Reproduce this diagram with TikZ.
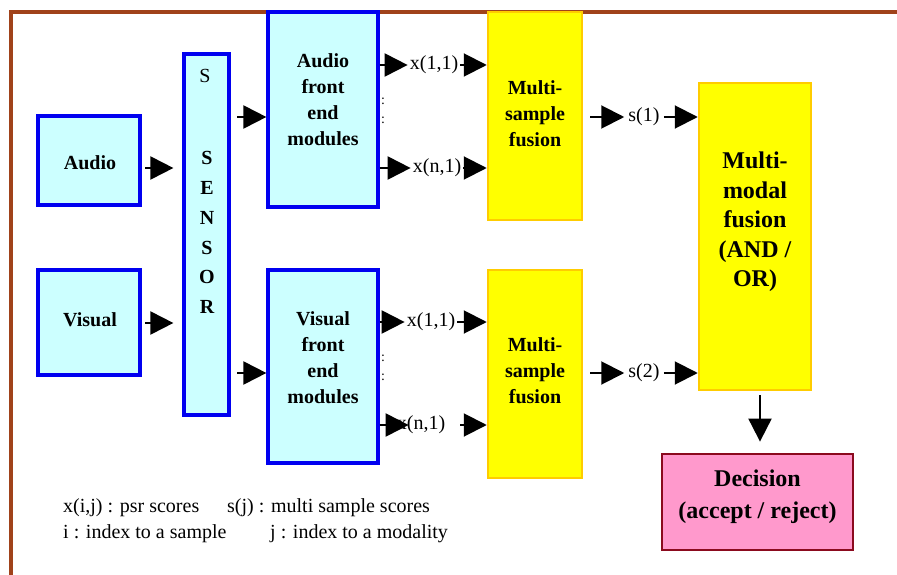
\documentclass[tikz,border=0pt]{standalone}
\usepackage{fontspec}
\setmainfont{Liberation Serif}
\usetikzlibrary{arrows.meta}
\definecolor{boxcyan}{HTML}{CCFFFF}
\definecolor{boxblue}{HTML}{0000F0}
\definecolor{fuseyellow}{HTML}{FFFF00}
\definecolor{fuseedge}{HTML}{FFCC00}
\definecolor{decpink}{HTML}{FF99CC}
\definecolor{decedge}{HTML}{8B0A1E}
\definecolor{framebrown}{HTML}{A0421A}

\begin{document}
\begin{tikzpicture}[x=1pt,y=-1pt,
  frontbox/.style={draw=boxblue, line width=3.2pt, fill=boxcyan, inner sep=0pt},
  fusebox/.style={draw=fuseedge, line width=2.5pt, fill=fuseyellow, inner sep=0pt},
  decbox/.style={draw=decedge, line width=2.8pt, fill=decpink, inner sep=0pt},
  boxtext/.style={font=\bfseries\fontsize{20}{26}\selectfont, align=center, inner sep=0pt},
  bigtext/.style={font=\bfseries\fontsize{24}{29.5}\selectfont, align=center, inner sep=0pt},
  sig/.style={font=\fontsize{20}{24}\selectfont, inner sep=2pt},
  dots/.style={font=\fontsize{14}{19}\selectfont, align=center, inner sep=0pt},
  note/.style={font=\fontsize{20}{26}\selectfont, inner sep=0pt, anchor=base west},
  arr/.style={line width=2pt, -{Triangle[length=23pt,width=23pt]}},
]
\useasboundingbox (0,0) rectangle (897,575);
\fill[white] (0,0) rectangle (897,575);
% outer frame (top and left edges only)
\draw[framebrown, line width=3.5pt] (11,575) -- (11,12) -- (897,12);

% input blocks
\node[frontbox, minimum width=102pt, minimum height=89pt] (audio) at (89,160.5) {};
\node[boxtext] (audiotxt) at (90,163) {Audio};
\node[frontbox, minimum width=102pt, minimum height=105pt] (visual) at (89,322.5) {};
\node[boxtext] (visualtxt) at (90,320) {Visual};

% sensor column
\node[frontbox, minimum width=45pt, minimum height=361pt] (sensor) at (206.5,234.5) {};
\node[font=\fontsize{20}{24}\selectfont, inner sep=0pt] (sensortop) at (205,76) {S};
\node[font=\bfseries\fontsize{20}{29.8}\selectfont, align=center, inner sep=0pt] (sensortxt) at (207,232.5) {S\\E\\N\\S\\O\\R};

% front end modules
\node[frontbox, minimum width=110pt, minimum height=195pt] (afe) at (323,109.5) {};
\node[boxtext] (afetxt) at (323,100) {Audio\\front\\end\\modules};
\node[frontbox, minimum width=110pt, minimum height=193pt] (vfe) at (323,366.5) {};
\node[boxtext] (vfetxt) at (323,358) {Visual\\front\\end\\modules};

% multi-sample fusion blocks
\node[fusebox, minimum width=94pt, minimum height=208pt] (msf1) at (535,116) {};
\node[boxtext] (msf1txt) at (535,114) {Multi-\\sample\\fusion};
\node[fusebox, minimum width=94pt, minimum height=208pt] (msf2) at (535,374) {};
\node[boxtext] (msf2txt) at (535,371) {Multi-\\sample\\fusion};

% multi-modal fusion and decision
\node[fusebox, minimum width=112pt, minimum height=307pt] (mmf) at (755,236.5) {};
\node[bigtext] (mmftxt) at (755,222) {Multi-\\modal\\fusion\\(AND /\\OR)};
\node[decbox, minimum width=191pt, minimum height=96pt] (dec) at (757.5,502) {};
\node[font=\bfseries\fontsize{24}{32}\selectfont, align=center, inner sep=0pt] (dectxt) at (757.5,497) {Decision\\(accept / reject)};

% inputs into the sensor
\coordinate (inA) at (145,168);
\draw[arr, shorten >=9pt] (inA) -- (sensor.west |- inA);
\coordinate (inV) at (145,323);
\draw[arr, shorten >=9pt] (inV) -- (sensor.west |- inV);

% sensor to front ends
\coordinate (outA) at (237,117);
\draw[arr] (outA) -- (afe.west |- outA);
\coordinate (outV) at (237,373);
\draw[arr] (outV) -- (vfe.west |- outV);

% audio scores
\node[sig] (ax1) at (434,65) {x(1,1)};
\node[sig] (axn) at (437,168) {x(n,1)};
\node[dots] (adots) at (383,110.5) {:\\:};
\draw[arr] (afe.east |- ax1) -- (ax1.west);
\draw[arr] (ax1.east) -- (msf1.west |- ax1);
\draw[arr] (afe.east |- axn) -- (axn.west);
\draw[arr] (axn.east) -- (msf1.west |- axn);

% visual scores
\node[sig] (vx1) at (431,322) {x(1,1)};
\node[sig] (vxn) at (421,425) {x(n,1)};
\node[dots] (vdots) at (383,367.5) {:\\:};
\draw[arr] (vfe.east |- vx1) -- (vx1.west);
\draw[arr] (vx1.east) -- (msf2.west |- vx1);
\draw[arr] (vfe.east |- vxn) -- ([xshift=14pt]vxn.west);
\draw[arr] ([xshift=13pt]vxn.east) -- (msf2.west |- vxn);

% multi-sample scores
\node[sig, inner sep=4pt] (s1) at (644,117) {s(1)};
\coordinate (s1from) at (590,117);
\draw[arr] (s1from) -- (s1.west);
\draw[arr] (s1.east) -- (mmf.west |- s1);
\node[sig, inner sep=4pt] (s2) at (644,373) {s(2)};
\coordinate (s2from) at (590,373);
\draw[arr] (s2from) -- (s2.west);
\draw[arr] (s2.east) -- (mmf.west |- s2);

% fusion to decision
\coordinate (downfrom) at (760,395);
\draw[arr, shorten >=11pt] (downfrom) -- (dec.north -| downfrom);

% legend
\node[note] (leg1) at (63,512) {x(i,j) : psr scores};
\node[note] (leg2) at (227,512) {s(j) : multi sample scores};
\node[note] (leg3) at (63,538) {i : index to a sample};
\node[note] (leg4) at (270,538) {j : index to a modality};
\end{tikzpicture}
\end{document}
